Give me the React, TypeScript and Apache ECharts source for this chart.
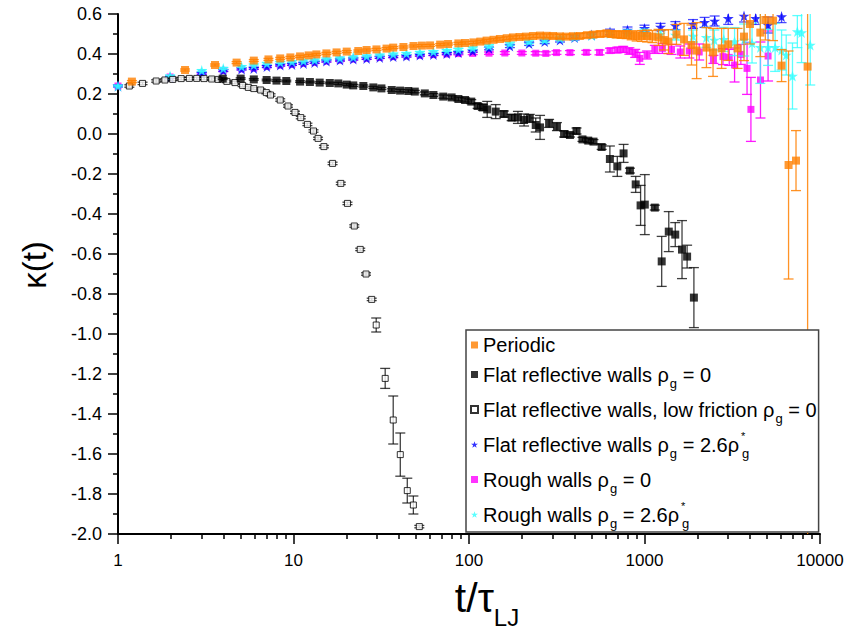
import React, { useEffect, useRef } from 'react';
import * as echarts from 'echarts';

const FONT = '"Liberation Sans", Arial, sans-serif';
const STAR = 'path://M50,2 L61.8,37.6 L99,37.6 L69,59.6 L80.3,95 L50,73.2 L19.7,95 L31,59.6 L1,37.6 L38.2,37.6 Z';

// [t/tau_LJ, kappa(t), error]
const periodic = [
  [1.2, 0.262, 0.005], [2.41, 0.32, 0.005], [3.57, 0.345, 0.005], [4.74, 0.357, 0.005], [5.94, 0.367, 0.005],
  [7.2, 0.373, 0.005], [8.4, 0.378, 0.005], [9.6, 0.383, 0.005], [10.9, 0.388, 0.005], [12.2, 0.393, 0.005],
  [13.5, 0.398, 0.005], [15.4, 0.403, 0.005], [17.6, 0.408, 0.005], [20.1, 0.412, 0.005], [23.4, 0.415, 0.005],
  [26.1, 0.42, 0.005], [29.7, 0.423, 0.005], [33.9, 0.427, 0.005], [37, 0.432, 0.005], [42.3, 0.435, 0.005],
  [48.3, 0.44, 0.005], [53.9, 0.442, 0.005], [60, 0.443, 0.005], [68.5, 0.447, 0.005], [76, 0.45, 0.005],
  [87, 0.453, 0.005], [95, 0.455, 0.006], [106, 0.458, 0.006], [116, 0.462, 0.006], [126, 0.467, 0.006],
  [138, 0.471, 0.006], [150, 0.475, 0.007], [164, 0.479, 0.007], [178, 0.483, 0.007], [194, 0.485, 0.008],
  [211, 0.487, 0.008], [232, 0.49, 0.008], [254, 0.492, 0.009], [277, 0.491, 0.009], [301, 0.49, 0.01],
  [330, 0.488, 0.01], [358, 0.487, 0.01], [392, 0.489, 0.011], [428, 0.49, 0.012], [470, 0.494, 0.012],
  [512, 0.497, 0.013], [560, 0.5, 0.014], [609, 0.503, 0.015], [650, 0.5, 0.016], [693, 0.498, 0.017],
  [740, 0.497, 0.018], [791, 0.497, 0.02], [845, 0.493, 0.022], [902, 0.49, 0.025], [965, 0.49, 0.027],
  [1034, 0.49, 0.03], [1110, 0.487, 0.03], [1202, 0.483, 0.04], [1290, 0.47, 0.05], [1369, 0.462, 0.06],
  [1521, 0.498, 0.05], [1680, 0.473, 0.08], [1853, 0.445, 0.1], [1982, 0.417, 0.14], [2254, 0.432, 0.1],
  [2458, 0.408, 0.12], [2750, 0.428, 0.1], [3000, 0.448, 0.08], [3390, 0.428, 0.1], [3690, 0.487, 0.12],
  [3990, 0.55, 0.1], [4570, 0.507, 0.12], [4880, 0.57, 0.1], [5400, 0.567, 0.1], [6040, 0.342, 0.08],
  [6620, -0.155, 0.57], [7300, -0.133, 0.15], [8500, 0.337, 2.6],
];

const flatWalls = [
  [3.95, 0.277, 0.004], [5.0, 0.277, 0.004], [5.94, 0.273, 0.004], [7.03, 0.27, 0.004], [8.0, 0.267, 0.004],
  [9.1, 0.265, 0.004], [10.9, 0.262, 0.004], [12.4, 0.26, 0.004], [14.1, 0.257, 0.004], [16.1, 0.255, 0.004],
  [18, 0.253, 0.005], [20.1, 0.247, 0.005], [21.9, 0.243, 0.005], [25, 0.24, 0.005], [28.5, 0.233, 0.005],
  [31.7, 0.228, 0.005], [36.3, 0.22, 0.006], [40.5, 0.217, 0.006], [45.1, 0.215, 0.006], [49.1, 0.212, 0.006],
  [56, 0.203, 0.007], [62.7, 0.195, 0.007], [71.3, 0.187, 0.008], [79.6, 0.183, 0.008], [87, 0.175, 0.009],
  [95, 0.17, 0.01], [103, 0.162, 0.01], [112, 0.14, 0.012], [120, 0.133, 0.015], [127, 0.123, 0.04],
  [142, 0.112, 0.035], [158, 0.1, 0.015], [175, 0.082, 0.015], [190, 0.083, 0.03], [206, 0.07, 0.03],
  [222, 0.078, 0.02], [240, 0.045, 0.035], [254, 0.033, 0.06], [286, 0.053, 0.02], [317, 0.037, 0.02],
  [348, 0.0, 0.015], [376, -0.005, 0.01], [410, 0.015, 0.015], [443, -0.027, 0.01], [478, -0.033, 0.01],
  [512, -0.038, 0.01], [570, -0.065, 0.012], [635, -0.125, 0.065], [700, -0.162, 0.05], [760, -0.097, 0.045],
  [826, -0.183, 0.012], [891, -0.252, 0.04], [950, -0.357, 0.1], [1004, -0.353, 0.15], [1145, -0.368, 0.012],
  [1253, -0.637, 0.125], [1375, -0.488, 0.1], [1497, -0.503, 0.06], [1636, -0.578, 0.145], [1749, -0.613, 0.057],
  [1912, -0.818, 0.15],
];

const lowFriction = [
  [1.16, 0.24, 0.006], [1.38, 0.253, 0.006], [1.65, 0.265, 0.006], [1.85, 0.27, 0.006], [2.05, 0.273, 0.006],
  [2.29, 0.277, 0.006], [2.55, 0.278, 0.006], [2.81, 0.278, 0.006], [3.09, 0.277, 0.006], [3.42, 0.275, 0.006],
  [3.72, 0.273, 0.006], [4.17, 0.263, 0.006], [4.64, 0.257, 0.006], [5.13, 0.243, 0.006], [5.53, 0.233, 0.006],
  [5.94, 0.227, 0.006], [6.5, 0.22, 0.006], [7.0, 0.207, 0.006], [7.4, 0.195, 0.006], [8.4, 0.17, 0.006],
  [9.3, 0.14, 0.006], [10.2, 0.108, 0.006], [11.0, 0.082, 0.006], [12.0, 0.048, 0.006], [13.0, 0.015, 0.006],
  [13.8, -0.022, 0.006], [14.9, -0.063, 0.006], [16.7, -0.147, 0.006], [18.6, -0.247, 0.006], [20.3, -0.347, 0.006],
  [22.2, -0.46, 0.006], [24.0, -0.577, 0.006], [25.9, -0.7, 0.006], [27.9, -0.827, 0.006], [29.6, -0.955, 0.035],
  [33.3, -1.222, 0.05], [37.0, -1.43, 0.12], [40.6, -1.603, 0.108], [44.5, -1.783, 0.062], [48.2, -1.855, 0.045],
  [52.1, -1.963, 0.006],
];

const flatGas = [
  [1.0, 0.24, 0.005], [1.98, 0.283, 0.005], [3.0, 0.303, 0.005], [3.98, 0.317, 0.005], [5.06, 0.325, 0.005],
  [5.94, 0.328, 0.005], [7.05, 0.337, 0.005], [8.4, 0.345, 0.005], [9.8, 0.348, 0.005], [11.4, 0.353, 0.005],
  [13.2, 0.358, 0.005], [15.4, 0.365, 0.005], [18.4, 0.37, 0.005], [21.9, 0.375, 0.005], [26.1, 0.378, 0.005],
  [31, 0.383, 0.005], [37, 0.387, 0.005], [44, 0.39, 0.005], [52.5, 0.395, 0.005], [62.7, 0.398, 0.005],
  [74.7, 0.403, 0.005], [87, 0.407, 0.006], [105, 0.415, 0.006], [130, 0.428, 0.007], [171, 0.44, 0.008],
  [220, 0.452, 0.009], [270, 0.462, 0.01], [330, 0.47, 0.01], [400, 0.482, 0.012], [500, 0.495, 0.012],
  [636, 0.51, 0.014], [800, 0.52, 0.015], [1000, 0.528, 0.016], [1234, 0.535, 0.018], [1500, 0.542, 0.02],
  [1890, 0.55, 0.022], [2200, 0.558, 0.025], [2510, 0.565, 0.025], [3000, 0.578, 0.03], [3690, 0.59, 0.03],
  [4300, 0.578, 0.03], [5060, 0.545, 0.04], [6040, 0.587, 0.03],
];

const roughWalls = [
  [1.0, 0.24, 0.005], [1.98, 0.285, 0.005], [3.0, 0.305, 0.005], [3.98, 0.318, 0.005], [5.06, 0.326, 0.005],
  [5.94, 0.33, 0.005], [7.05, 0.338, 0.005], [8.4, 0.345, 0.005], [9.8, 0.349, 0.005], [11.4, 0.354, 0.005],
  [13.2, 0.359, 0.005], [15.4, 0.365, 0.005], [18.4, 0.37, 0.005], [21.9, 0.375, 0.005], [26.1, 0.379, 0.005],
  [31, 0.383, 0.005], [37, 0.387, 0.005], [44, 0.39, 0.005], [52.5, 0.394, 0.005], [62.7, 0.397, 0.005],
  [74.7, 0.4, 0.005], [87, 0.402, 0.006], [105, 0.403, 0.006], [130, 0.404, 0.006], [160, 0.405, 0.007],
  [200, 0.405, 0.007], [240, 0.404, 0.008], [274, 0.403, 0.008], [315, 0.407, 0.009], [376, 0.407, 0.01],
  [466, 0.408, 0.01], [554, 0.408, 0.012], [636, 0.417, 0.012], [700, 0.42, 0.014], [756, 0.423, 0.015],
  [820, 0.415, 0.016], [885, 0.403, 0.02], [940, 0.378, 0.03], [1034, 0.395, 0.02], [1145, 0.423, 0.02],
  [1265, 0.428, 0.025], [1425, 0.423, 0.025], [1600, 0.41, 0.03], [1800, 0.415, 0.035], [2050, 0.41, 0.04],
  [2470, 0.373, 0.02], [2800, 0.387, 0.04], [3040, 0.383, 0.04], [3260, 0.345, 0.085], [3540, 0.398, 0.05],
  [3840, 0.328, 0.13], [4040, 0.123, 0.16], [4580, 0.27, 0.19], [5060, 0.39, 0.125],
];

const roughGas = [
  [1.0, 0.24, 0.005], [1.98, 0.29, 0.005], [3.0, 0.317, 0.005], [3.98, 0.328, 0.005], [5.06, 0.337, 0.005],
  [5.94, 0.345, 0.005], [7.05, 0.353, 0.005], [8.4, 0.358, 0.005], [9.8, 0.362, 0.005], [11.4, 0.366, 0.005],
  [13.2, 0.37, 0.005], [15.4, 0.375, 0.005], [18.4, 0.38, 0.005], [21.9, 0.385, 0.005], [26.1, 0.39, 0.005],
  [31, 0.395, 0.005], [37, 0.4, 0.005], [44, 0.403, 0.005], [52.5, 0.408, 0.005], [62.7, 0.412, 0.005],
  [74.7, 0.418, 0.005], [87, 0.423, 0.006], [105, 0.43, 0.006], [130, 0.44, 0.007], [171, 0.452, 0.008],
  [220, 0.462, 0.009], [270, 0.47, 0.01], [330, 0.478, 0.01], [400, 0.485, 0.012], [500, 0.493, 0.012],
  [636, 0.503, 0.014], [800, 0.505, 0.015], [1000, 0.507, 0.017], [1234, 0.5, 0.02], [1500, 0.495, 0.025],
  [1890, 0.49, 0.03], [2250, 0.483, 0.05], [2500, 0.47, 0.05], [2830, 0.473, 0.06], [3260, 0.462, 0.07],
  [3700, 0.47, 0.08], [4100, 0.455, 0.1], [4570, 0.433, 0.18], [5060, 0.433, 0.09], [5550, 0.433, 0.12],
  [6040, 0.42, 0.1], [6420, 0.395, 0.1], [6970, 0.29, 0.165], [7430, 0.512, 0.08], [7850, 0.507, 0.15],
  [8800, 0.445, 0.2],
];

const xMajorTicks = [1, 10, 100, 1000, 10000];
const yTickStep = 0.2;

const NAMES = [
  'Periodic',
  'Flat reflective walls ρg = 0',
  'Flat reflective walls, low friction ρg = 0',
  'Flat reflective walls ρg = 2.6ρg*',
  'Rough walls ρg = 0',
  'Rough walls ρg = 2.6ρg*',
];
const RICH: Record<string, string> = {
  [NAMES[0]]: '{p|Periodic}',
  [NAMES[1]]: '{n|Flat reflective walls ρ}{sub|g}{n| = 0}',
  [NAMES[2]]: '{n|Flat reflective walls, low friction ρ}{sub|g}{n| = 0}',
  [NAMES[3]]: '{n|Flat reflective walls ρ}{sub|g}{n| = 2.6ρ}{sup|*}{sub|g}',
  [NAMES[4]]: '{n|Rough walls ρ}{sub|g}{n| = 0}',
  [NAMES[5]]: '{n|Rough walls ρ}{sub|g}{n| = 2.6ρ}{sup|*}{sub|g}',
};

function errRender(color: string, opacity: number) {
  return (params: any, api: any) => {
    const x = api.value(0);
    const y = api.value(1);
    const e = api.value(2);
    const cs = params.coordSys;
    const top = api.coord([x, y + e]);
    const bot = api.coord([x, y - e]);
    const yMin = cs.y;
    const yMax = cs.y + cs.height;
    const t = Math.max(top[1], yMin);
    const b = Math.min(bot[1], yMax);
    if (b <= t) return null;
    const style = { stroke: color, lineWidth: 1.3, opacity };
    const cap = 5;
    const children: any[] = [
      { type: 'line', shape: { x1: top[0], y1: t, x2: top[0], y2: b }, style },
    ];
    if (top[1] >= yMin) children.push({ type: 'line', shape: { x1: top[0] - cap, y1: top[1], x2: top[0] + cap, y2: top[1] }, style });
    if (bot[1] <= yMax) children.push({ type: 'line', shape: { x1: bot[0] - cap, y1: bot[1], x2: bot[0] + cap, y2: bot[1] }, style });
    return { type: 'group', children };
  };
}

export default function App() {
  const ref = useRef<HTMLDivElement>(null);
  useEffect(() => {
    if (!ref.current) return;
    const chart = echarts.init(ref.current, null, { renderer: 'svg' });

    const minorTicks: number[] = [];
    for (let d = 1; d < 10000; d *= 10) for (let k = 2; k <= 9; k++) minorTicks.push(k * d);

    const defs = [
      { name: NAMES[4], data: roughWalls, color: '#FF00FF', symbol: 'rect', size: 7, z: 2, errOp: 0.9 },
      { name: NAMES[3], data: flatGas, color: '#0000FF', symbol: STAR, size: 11, z: 3, errOp: 0.7 },
      { name: NAMES[5], data: roughGas, color: '#33FFFF', symbol: STAR, size: 11, z: 4, errOp: 0.8 },
      { name: NAMES[2], data: lowFriction, color: '#000000', symbol: 'rect', size: 6, z: 5, errOp: 0.75, open: true },
      { name: NAMES[1], data: flatWalls, color: '#000000', symbol: 'rect', size: 8, z: 6, errOp: 0.75 },
      { name: NAMES[0], data: periodic, color: '#FF8000', symbol: 'rect', size: 8, z: 7, errOp: 0.85 },
    ];

    const series: any[] = [];
    defs.forEach((d: any) => {
      series.push({
        type: 'custom',
        name: d.name + ' err',
        data: d.data,
        encode: { x: 0, y: 1 },
        renderItem: errRender(d.color, d.errOp),
        z: d.z,
        silent: true,
      });
      series.push({
        type: 'scatter',
        name: d.name,
        data: d.data.map((p: number[]) => [p[0], p[1]]),
        symbol: d.symbol,
        symbolSize: d.size,
        itemStyle: d.open
          ? { color: '#FFFFFF', borderColor: '#000000', borderWidth: 1 }
          : { color: d.color },
        z: d.z,
      });
    });

    const tickStyle = { color: '#000', width: 1.5 };
    const ROW = 35;

    chart.setOption({
      animation: false,
      backgroundColor: '#FFFFFF',
      grid: { left: 118, right: 28, top: 14, bottom: 106, containLabel: false },
      xAxis: [
        {
          type: 'log',
          logBase: 10,
          min: 1,
          max: 10000,
          axisLine: { show: true, onZero: false, lineStyle: { color: '#000', width: 2 } },
          axisTick: { show: true, length: 10, customValues: xMajorTicks, lineStyle: tickStyle },
          axisLabel: {
            customValues: xMajorTicks,
            fontSize: 17,
            fontFamily: FONT,
            color: '#000',
            margin: 18,
            formatter: (v: number) => String(Math.round(v)),
          },
          splitLine: { show: false },
        },
        {
          type: 'log',
          logBase: 10,
          min: 1,
          max: 10000,
          position: 'bottom',
          axisLine: { show: false, onZero: false },
          axisTick: { show: true, length: 5, customValues: minorTicks, lineStyle: tickStyle },
          axisLabel: { show: false },
          splitLine: { show: false },
        },
      ],
      yAxis: {
        type: 'value',
        min: -2.0,
        max: 0.6,
        interval: yTickStep,
        axisLine: { show: true, onZero: false, lineStyle: { color: '#000', width: 2 } },
        axisTick: { show: true, length: 10, lineStyle: tickStyle },
        minorTick: { show: true, splitNumber: 2, length: 5, lineStyle: tickStyle },
        axisLabel: {
          fontSize: 18,
          fontFamily: FONT,
          color: '#000',
          margin: 16,
          formatter: (v: number) => v.toFixed(1),
        },
        splitLine: { show: false },
      },
      legend: {
        orient: 'vertical',
        left: 466,
        top: 330,
        data: [
          { name: NAMES[0], icon: 'rect' },
          { name: NAMES[1], icon: 'rect' },
          { name: NAMES[2], icon: 'rect' },
          { name: NAMES[3], icon: STAR },
          { name: NAMES[4], icon: 'rect' },
          { name: NAMES[5], icon: STAR },
        ],
        itemWidth: 7,
        itemHeight: 7,
        itemGap: 4,
        padding: [5, 2, 2, 4],
        borderColor: '#444',
        borderWidth: 1.5,
        backgroundColor: '#FFFFFF',
        selectedMode: false,
        formatter: (name: string) => RICH[name] || name,
        textStyle: {
          fontSize: 20,
          fontFamily: FONT,
          color: '#000',
          rich: {
            p: { fontSize: 20, fontFamily: FONT, color: '#000', lineHeight: 25, verticalAlign: 'middle' },
            n: { fontSize: 20, fontFamily: FONT, color: '#000', lineHeight: ROW, verticalAlign: 'middle' },
            sub: { fontSize: 13, fontFamily: FONT, color: '#000', lineHeight: ROW, verticalAlign: 'middle', padding: [18, 0, 0, 1] },
            sup: { fontSize: 11, fontFamily: FONT, color: '#000', lineHeight: ROW, verticalAlign: 'middle', padding: [0, 0, 18, 2], width: 0 },
          },
        },
        z: 10,
      },
      graphic: [
        {
          type: 'text',
          x: 34,
          y: 265,
          rotation: Math.PI / 2,
          style: {
            text: 'κ(t)',
            font: '33px "Liberation Sans", Arial, sans-serif',
            fill: '#000',
            align: 'center',
            verticalAlign: 'middle',
          },
        },
        {
          type: 'text',
          x: 487,
          y: 577,
          style: {
            text: '{a|t/τ}{s|LJ}',
            align: 'center',
            verticalAlign: 'top',
            rich: {
              a: { fontSize: 41, fontFamily: FONT, color: '#000', verticalAlign: 'top', lineHeight: 45 },
              s: { fontSize: 24, fontFamily: FONT, color: '#000', verticalAlign: 'top', padding: [28, 0, 0, 0] },
            },
          },
        },
      ],
      series,
    });

    return () => chart.dispose();
  }, []);

  return (
    <div
      ref={ref}
      style={{ position: 'fixed', left: 0, top: 0, width: 848, height: 640, background: '#fff' }}
    />
  );
}
